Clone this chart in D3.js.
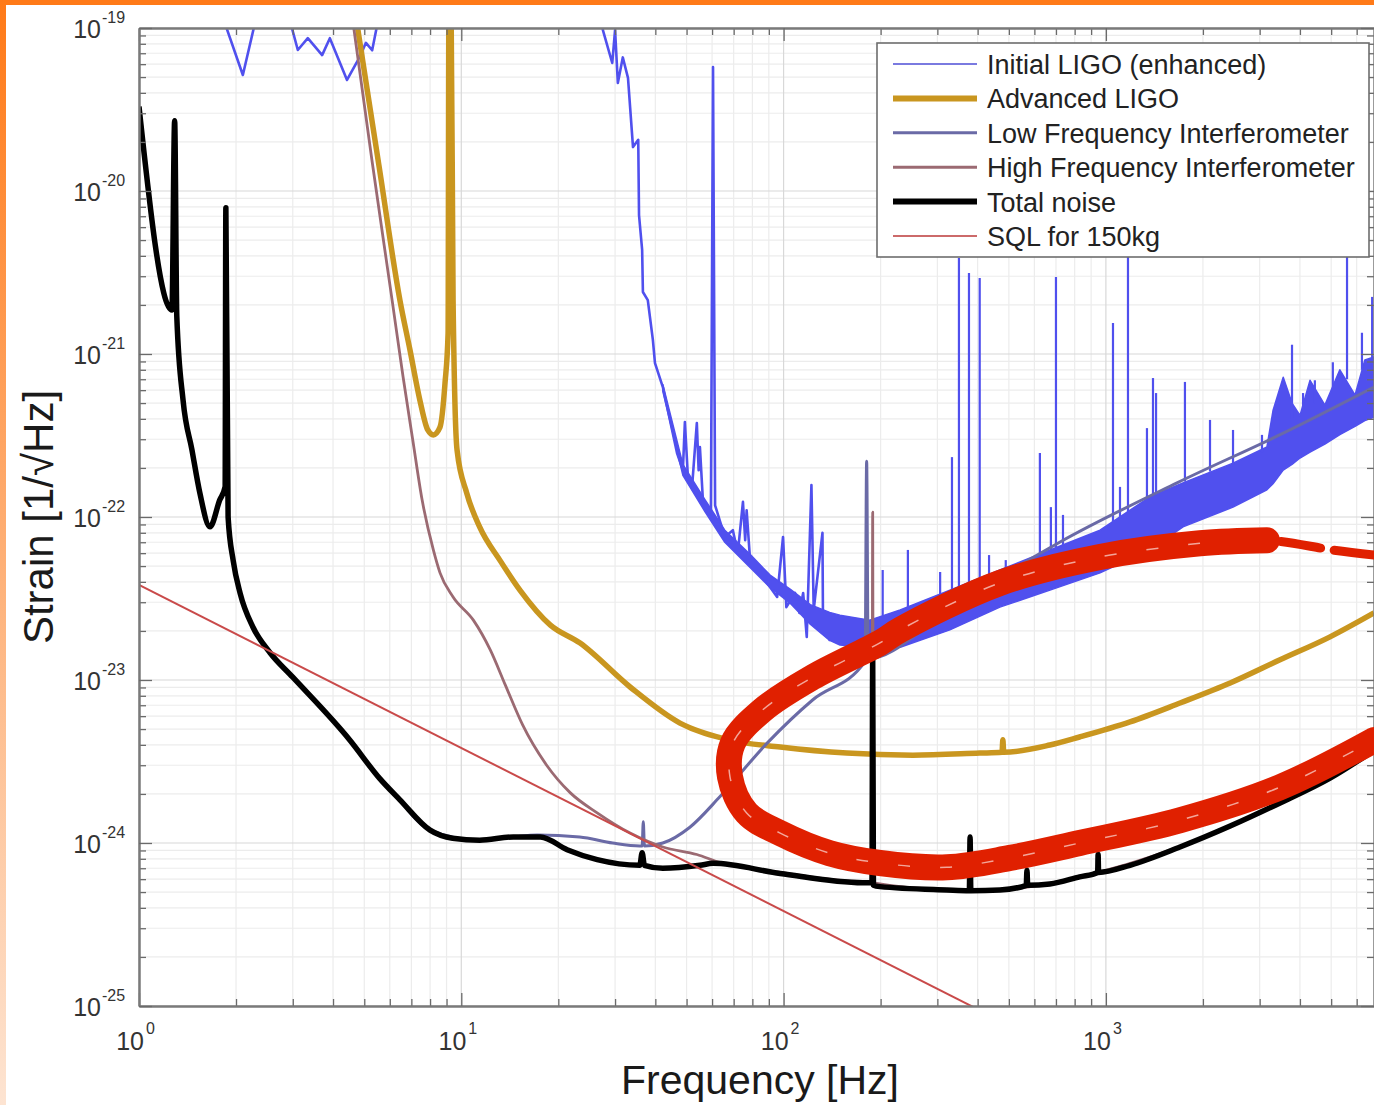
<!DOCTYPE html>
<html>
<head>
<meta charset="utf-8">
<script src="https://cdn.jsdelivr.net/npm/d3@7"></script>
<style>
body { margin: 0; background: #fff; }
svg { display: block; font-family: "Liberation Sans", Arial, Helvetica, sans-serif; }
</style>
</head>
<body>
<svg id="svg" width="1374" height="1105"></svg>
<script>
var svg = d3.select("#svg");

// values: [frequency Hz, strain 1/sqrt(Hz)]
var initialLigo = [[1.81,1.2e-19],[2.1,5.15e-20],[2.34,1.29e-19],[2.88,1.29e-19],[3.11,7.33e-20],[3.34,8.66e-20],
  [3.7,6.82e-20],[3.91,8.66e-20],[4.42,4.8e-20],[4.78,6.36e-20],[5.06,8.1e-20],[5.29,7.3e-20],[5.6,1.29e-19],
  [26.9,1.29e-19],[27.5,9.7e-20],[29.4,6.1e-20],[30.0,9.7e-20],[30.6,4.6e-20],[31.7,6.6e-20],[32.9,4.94e-20],
  [34.1,1.86e-20],[35.4,2.06e-20],[35.6,7.1e-21],[36.4,4.35e-21],[36.6,2.4e-21],[37.9,2.14e-21],[39.3,1.22e-21],
  [39.9,8.8e-22],[42.2,6.27e-22],[44.4,3.94e-22],[46.7,2.47e-22],[48.7,1.94e-22],[49.4,3.83e-22],[50.5,1.73e-22],
  [52.0,1.53e-22],[53.8,3.77e-22],[54.5,1.94e-22],[55.0,2.69e-22],[56.3,1.18e-22],[59.5,1.1e-22],[60.4,5.76e-20],
  [61.3,1.18e-22],[65.7,7.54e-23],[69.6,8.3e-23],[72.1,6.0e-23],[74.8,1.24e-22],[76.0,7.2e-23],[76.8,1.1e-22],
  [78.7,5.44e-23],[84.4,4.54e-23],[88.9,3.94e-23],[95.5,3.23e-23],[99.6,7.54e-23],[102,2.8e-23],[108.5,3.42e-23],
  [112,2.58e-23],[115,3.42e-23],[118,1.84e-23],[122,1.57e-22],[124,2.69e-23],[132,8.0e-23],[132.5,2.33e-23],
  [139,1.76e-23],[147.5,2.43e-23],[161,2.03e-23],[172.5,2.24e-23]];

// dense noise band of the initial LIGO curve: [f, upper strain, lower strain]
var initialBand = [[42.2,6.5e-22,5.9e-22],[48.7,2.1e-22,1.8e-22],[57,1.28e-22,1.08e-22],[65.7,8.3e-23,7.0e-23],
  [78.7,5.9e-23,4.9e-23],[90.8,4.4e-23,3.7e-23],[105,3.6e-23,2.95e-23],[121,2.9e-23,2.2e-23],
  [139,2.6e-23,1.75e-23],[149.6,2.5e-23,1.64e-23],[185,2.33e-23,1.57e-23],[230,2.69e-23,1.59e-23],
  [328,3.56e-23,2.03e-23],[469,4.73e-23,2.8e-23],[671,6.28e-23,3.56e-23],[959,8.3e-23,4.54e-23],
  [1371,1.33e-22,6.28e-23],[1735,1.62e-22,8.7e-23],[2480,2.14e-22,1.15e-22],[3160,2.69e-22,1.47e-22],
  [3300,4.5e-22,1.6e-22],[3550,7.2e-22,1.94e-22],[3780,5.0e-22,2.1e-22],[4002,4.2e-22,2.3e-22],
  [4300,6.9e-22,2.5e-22],[4780,4.86e-22,2.8e-22],[5320,8.0e-22,3.2e-22],[5930,5.6e-22,3.6e-22],
  [6360,9.2e-22,3.9e-22],[6790,9.6e-22,4.1e-22]];

// line spikes on top of the band: [f, base, peak]
var initialSpikes = [[203,2.4e-23,4.73e-23],[243,2.6e-23,6.28e-23],[306,2.9e-23,4.6e-23],[333,3.2e-23,2.33e-22],
  [350,3.3e-23,3.88e-21],[376,3.5e-23,3.14e-21],[406,3.8e-23,2.93e-21],[434,4.1e-23,5.84e-23],[489,4.8e-23,5.44e-23],
  [624,5.9e-23,2.47e-22],[675,6.3e-23,1.15e-22],[700,6.4e-23,2.97e-21],[736,6.7e-23,1.03e-22],[1052,9.2e-23,1.55e-21],
  [1106,9.8e-23,1.53e-22],[1171,1.05e-22,6e-21],[1341,1.25e-22,3.51e-22],[1400,1.35e-22,7.12e-22],
  [1431,1.38e-22,5.76e-22],[1759,1.65e-22,6.74e-22],[2104,1.9e-22,3.94e-22],[2480,2.1e-22,3.42e-22],
  [3050,2.5e-22,3.19e-22],[3780,4e-22,1.14e-21],[4090,4.5e-22,5.76e-22],[4450,5e-22,6.9e-22],[5060,6e-22,8.9e-22],
  [5600,7e-22,6e-21],[6230,8e-22,1.35e-21],[6700,9e-22,2.24e-21]];

var advancedLigo = [[4.7,1.2e-19],[5.55,1.44e-20],[6.45,2.14e-21],[6.93,1.06e-21],[7.44,5.2e-22],[7.87,3.42e-22],
  [8.19,3.19e-22],[8.59,3.56e-22],[8.9,6.6e-22],[9.1,1.35e-21],[9.15,1.2e-19],[9.3,1.2e-19],[9.43,2.14e-21],
  [9.7,2.58e-22],[10.4,1.4e-22],[11.4,8.7e-23],[13.2,5.4e-23],[15.2,3.56e-23],[18.9,2.17e-23],[23.3,1.69e-23],
  [33.4,9.06e-24],[47.7,5.44e-24],[68.2,4.28e-24],[97.6,3.88e-24],[157,3.56e-24],[252,3.46e-24],[406,3.56e-24],
  [476,3.6e-24],[479,4.3e-24],[482,3.6e-24],[670,3.99e-24],[829,4.47e-24],[1188,5.53e-24],[1698,7.22e-24],
  [2430,9.58e-24],[3470,1.33e-23],[4960,1.84e-23],[6790,2.58e-23]];

var lowFreq = [[6.45,1.84e-24],[8.0,1.2e-24],[11.4,1.04e-24],[14.5,1.09e-24],[17.2,1.12e-24],[23.3,1.09e-24],
  [29.5,1.0e-24],[35.8,9.6e-25],[36.4,9.6e-25],[36.7,1.35e-24],[37.0,9.6e-25],[42.2,1.0e-24],[51.2,1.25e-24],
  [63.4,1.92e-24],[88.9,4.1e-24],[123,7.54e-24],[179,1.3e-23],[181,2.2e-22],[183,1.35e-23],[306,2.43e-23],
  [530,4.94e-23],[721,7.03e-23],[1662,1.62e-22],[3550,3.27e-22],[6790,6.27e-22]];

var highFreq = [[4.58,1.2e-19],[5.28,1.55e-20],[6.1,2.14e-21],[6.6,7.2e-22],[7.07,2.97e-22],[7.56,1.27e-22],
  [8.19,6.28e-23],[8.59,4.54e-23],[9.43,3.23e-23],[10.9,2.33e-23],[12.3,1.53e-23],[13.7,9.3e-24],[15.5,5.3e-24],
  [18.4,3.0e-24],[21.8,2.03e-24],[26.4,1.53e-24],[33.4,1.15e-24],[42.2,9.45e-25],[53.8,8.5e-25],[63.4,7.6e-25],
  [97.6,6.6e-25],[176,5.8e-25],[188,5.8e-25],[189,1.07e-22],[190,5.7e-25],[321,5.2e-25],[469,5.2e-25],
  [829,6.2e-25],[1698,9.5e-25],[3470,1.76e-24],[6790,3.7e-24]];

var totalNoise = [[1.0,3.3e-20],[1.265,1.86e-21],[1.29,2.7e-20],[1.31,1.7e-21],[1.37,5.2e-22],[1.46,2.58e-22],
  [1.545,1.4e-22],[1.66,8.7e-23],[1.78,1.27e-22],[1.85,1.53e-22],[1.86,7.9e-21],[1.89,1.0e-22],[1.96,5.4e-23],
  [2.06,3.4e-23],[2.26,2.1e-23],[2.55,1.47e-23],[3.0,1.04e-23],[4.5,4.3e-24],[5.57,2.5e-24],[6.45,1.84e-24],
  [8.0,1.2e-24],[9.4,1.07e-24],[11.4,1.04e-24],[14.5,1.09e-24],[17.6,1.09e-24],[21.3,9.1e-25],[26.4,7.9e-25],
  [35.8,7.3e-25],[36.4,8.7e-25],[37.0,7.3e-25],[42.2,7.0e-25],[55,7.3e-25],[60.4,7.5e-25],[97.6,6.5e-25],
  [176,5.7e-25],[188,5.7e-25],[189,1.4e-23],[190,5.5e-25],[199,5.4e-25],[321,5.15e-25],[377,5.1e-25],
  [379,1.09e-24],[381,5.1e-25],[469,5.15e-25],[566,5.5e-25],[569,6.8e-25],[572,5.5e-25],[670,5.6e-25],
  [829,6.2e-25],[943,6.6e-25],[946,8.5e-25],[949,6.6e-25],[1188,7.3e-25],[1698,9.45e-25],[2430,1.27e-24],
  [3470,1.76e-24],[4960,2.5e-24],[6790,3.7e-24]];

var sql150 = [[1,3.83e-23],[390,9.8e-26]];

// hand drawn red loop on top of the figure
var redLoop = [[6790,5.84e-23],[5060,6.27e-23],[3160,7.2e-23],[1959,6.9e-23],[959,5.69e-23],[469,3.94e-23],
  [230,2.03e-23],[199,1.69e-23],[123,1.04e-23],[86,6.54e-24],[69.6,4.1e-24],[68.2,2.54e-24],[76.8,1.53e-24],
  [97.6,1.15e-24],[139,8.66e-25],[199,7.54e-25],[321,7.1e-25],[504,8.1e-25],[829,1e-24],[1698,1.38e-24],
  [3470,2.2e-24],[6790,4.28e-24]];

var xMajorExp = [0, 1, 2, 3];
var yMajorExp = [-25, -24, -23, -22, -21, -20, -19];
var legendNames = ["Initial LIGO (enhanced)", "Advanced LIGO", "Low Frequency Interferometer",
  "High Frequency Interferometer", "Total noise", "SQL for 150kg"];
var legendColors = ["#7a7ae0", "#c9961f", "#6a6aa6", "#9b6a72", "#000000", "#cc6a6a"];
var legendWidths = [2, 6, 3, 3, 6, 2];

var x = d3.scaleLog().domain([1, 6790]).range([139, 1374]);
var y = d3.scaleLog().domain([1e-25, 1e-19]).range([1006, 28]);

// orange frame of the screenshot
var defs = svg.append("defs");
var grad = defs.append("linearGradient").attr("id", "fade").attr("x1", 0).attr("y1", 0).attr("x2", 0).attr("y2", 1);
grad.append("stop").attr("offset", "0%").attr("stop-color", "#ff7a18");
grad.append("stop").attr("offset", "100%").attr("stop-color", "#fde4d2");
defs.append("clipPath").attr("id", "plotclip").append("rect")
  .attr("x", 139).attr("y", 28).attr("width", 1374 - 139).attr("height", 1006 - 28);

// minor tick values
var xMinor = [], yMinor = [];
xMajorExp.forEach(function(e) {
  for (let m = 2; m < 10; m++) {
    var v = m * Math.pow(10, e);
    if (v < 6790) xMinor.push(v);
  }
});
yMajorExp.slice(0, -1).forEach(function(e) {
  for (let m = 2; m < 10; m++) yMinor.push(m * Math.pow(10, e));
});
var xMajor = xMajorExp.map(e => Math.pow(10, e));
var yMajor = yMajorExp.map(e => Math.pow(10, e));

// grid
var grid = svg.append("g");
function vgrid(vals, col) {
  grid.selectAll(null).data(vals).enter().append("line")
    .attr("x1", d => x(d)).attr("x2", d => x(d)).attr("y1", 28).attr("y2", 1006)
    .attr("stroke", col).attr("stroke-width", 1.2);
}
function hgrid(vals, col) {
  grid.selectAll(null).data(vals).enter().append("line")
    .attr("y1", d => y(d)).attr("y2", d => y(d)).attr("x1", 139).attr("x2", 1374)
    .attr("stroke", col).attr("stroke-width", 1.2);
}
vgrid(xMinor, "#ececec"); hgrid(yMinor, "#ececec");
vgrid(xMajor, "#d8d8d8"); hgrid(yMajor, "#d8d8d8");

var plot = svg.append("g").attr("clip-path", "url(#plotclip)");
var line = d3.line().x(d => x(d[0])).y(d => y(d[1]));
var smooth = d3.line().curve(d3.curveMonotoneX).x(d => x(d[0])).y(d => y(d[1]));

function drawLine(data, col, w, gen) {
  plot.append("path").datum(data).attr("d", gen || smooth)
    .attr("fill", "none").attr("stroke", col).attr("stroke-width", w)
    .attr("stroke-linejoin", "round");
}

// initial LIGO: trace, noise band and lines
var blue = "#5050ee";
drawLine(initialLigo, blue, 2.6, line);
plot.append("path").datum(initialBand)
  .attr("d", d3.area().x(d => x(d[0])).y0(d => y(d[2])).y1(d => y(d[1])))
  .attr("fill", blue).attr("stroke", blue).attr("stroke-width", 1.5).attr("stroke-linejoin", "round");
plot.selectAll(null).data(initialSpikes).enter().append("line")
  .attr("x1", d => x(d[0])).attr("x2", d => x(d[0]))
  .attr("y1", d => y(d[1])).attr("y2", d => y(d[2]))
  .attr("stroke", blue).attr("stroke-width", 2.2);

drawLine(advancedLigo, "#c9961f", 5.5);
drawLine(lowFreq, "#6a6aa6", 3);
drawLine(highFreq, "#9b6a72", 2.8);
drawLine(totalNoise, "#000", 5.5);
drawLine(sql150, "#c94a4a", 2, line);

// axes
function styleAxis(g) {
  g.select(".domain").attr("stroke", "#7a7a7a").attr("stroke-width", 2);
  g.selectAll(".tick line").attr("stroke", "#6a6a6a").attr("stroke-width", 1.3);
  g.selectAll(".tick text").remove();
}
svg.append("g").attr("transform", "translate(0,1006)")
  .call(d3.axisBottom(x).tickValues(xMinor).tickSize(-7).tickSizeOuter(0).tickFormat("")).call(styleAxis);
svg.append("g").attr("transform", "translate(0,1006)")
  .call(d3.axisBottom(x).tickValues(xMajor).tickSize(-13).tickSizeOuter(0).tickFormat("")).call(styleAxis);
svg.append("g").attr("transform", "translate(0,28)")
  .call(d3.axisTop(x).tickValues(xMinor).tickSize(-7).tickSizeOuter(0).tickFormat("")).call(styleAxis);
svg.append("g").attr("transform", "translate(0,28)")
  .call(d3.axisTop(x).tickValues(xMajor).tickSize(-13).tickSizeOuter(0).tickFormat("")).call(styleAxis);
svg.append("g").attr("transform", "translate(139,0)")
  .call(d3.axisLeft(y).tickValues(yMinor).tickSize(-7).tickSizeOuter(0).tickFormat("")).call(styleAxis);
svg.append("g").attr("transform", "translate(139,0)")
  .call(d3.axisLeft(y).tickValues(yMajor).tickSize(-13).tickSizeOuter(0).tickFormat("")).call(styleAxis);
svg.append("g").attr("transform", "translate(1374,0)")
  .call(d3.axisRight(y).tickValues(yMinor).tickSize(-7).tickSizeOuter(0).tickFormat("")).call(styleAxis);
svg.append("g").attr("transform", "translate(1374,0)")
  .call(d3.axisRight(y).tickValues(yMajor).tickSize(-13).tickSizeOuter(0).tickFormat("")).call(styleAxis);

// tick labels with exponents
var labels = svg.append("g").attr("fill", "#333");
xMajorExp.forEach(function(e) {
  var px = x(Math.pow(10, e));
  labels.append("text").attr("x", px + 5).attr("y", 1050).attr("text-anchor", "end")
    .style("font-size", "25px").text("10");
  labels.append("text").attr("x", px + 7).attr("y", 1034)
    .style("font-size", "16px").text(e);
});
yMajorExp.forEach(function(e) {
  var py = y(Math.pow(10, e));
  labels.append("text").attr("x", 101).attr("y", py + 10).attr("text-anchor", "end")
    .style("font-size", "25px").text("10");
  labels.append("text").attr("x", 102).attr("y", py - 5)
    .style("font-size", "16px").text(e);
});

// axis titles
svg.append("text").attr("x", 760).attr("y", 1094).attr("text-anchor", "middle")
  .style("font-size", "41px").attr("fill", "#1a1a1a").text("Frequency [Hz]");
svg.append("text").attr("transform", "translate(53,517) rotate(-90)").attr("text-anchor", "middle")
  .style("font-size", "42px").attr("fill", "#1a1a1a").text("Strain [1/\u221AHz]");

// legend
var leg = svg.append("g");
leg.append("rect").attr("x", 877).attr("y", 43).attr("width", 492).attr("height", 214)
  .attr("fill", "#fff").attr("stroke", "#6d6d6d").attr("stroke-width", 1.6);
legendNames.forEach(function(name, i) {
  var ry = 64 + i * 34.4;
  leg.append("line").attr("x1", 893).attr("x2", 977).attr("y1", ry).attr("y2", ry)
    .attr("stroke", legendColors[i]).attr("stroke-width", legendWidths[i]);
  leg.append("text").attr("x", 987).attr("y", ry + 10).style("font-size", "27px")
    .attr("fill", "#222").text(name);
});

// red marker loop
var loopLine = d3.line().curve(d3.curveCatmullRom.alpha(0.5)).x(d => x(d[0])).y(d => y(d[1]));
svg.append("path").datum(redLoop.slice(0, 4)).attr("d", loopLine)
  .attr("fill", "none").attr("stroke", "#e02000").attr("stroke-width", 9)
  .attr("stroke-dasharray", "40 14").attr("stroke-linecap", "round");
svg.append("path").datum(redLoop.slice(2)).attr("d", loopLine)
  .attr("fill", "none").attr("stroke", "#e02000").attr("stroke-width", 26)
  .attr("stroke-linecap", "round").attr("stroke-linejoin", "round");
svg.append("path").datum(redLoop.slice(3)).attr("d", loopLine)
  .attr("fill", "none").attr("stroke", "#fff").attr("stroke-width", 1.5).attr("opacity", 0.6)
  .attr("stroke-dasharray", "12 30");

// screenshot frame
svg.append("rect").attr("x", 0).attr("y", 0).attr("width", 1374).attr("height", 5).attr("fill", "#ff7a18");
svg.append("rect").attr("x", 0).attr("y", 0).attr("width", 6).attr("height", 1105).attr("fill", "url(#fade)");
</script>
</body>
</html>
